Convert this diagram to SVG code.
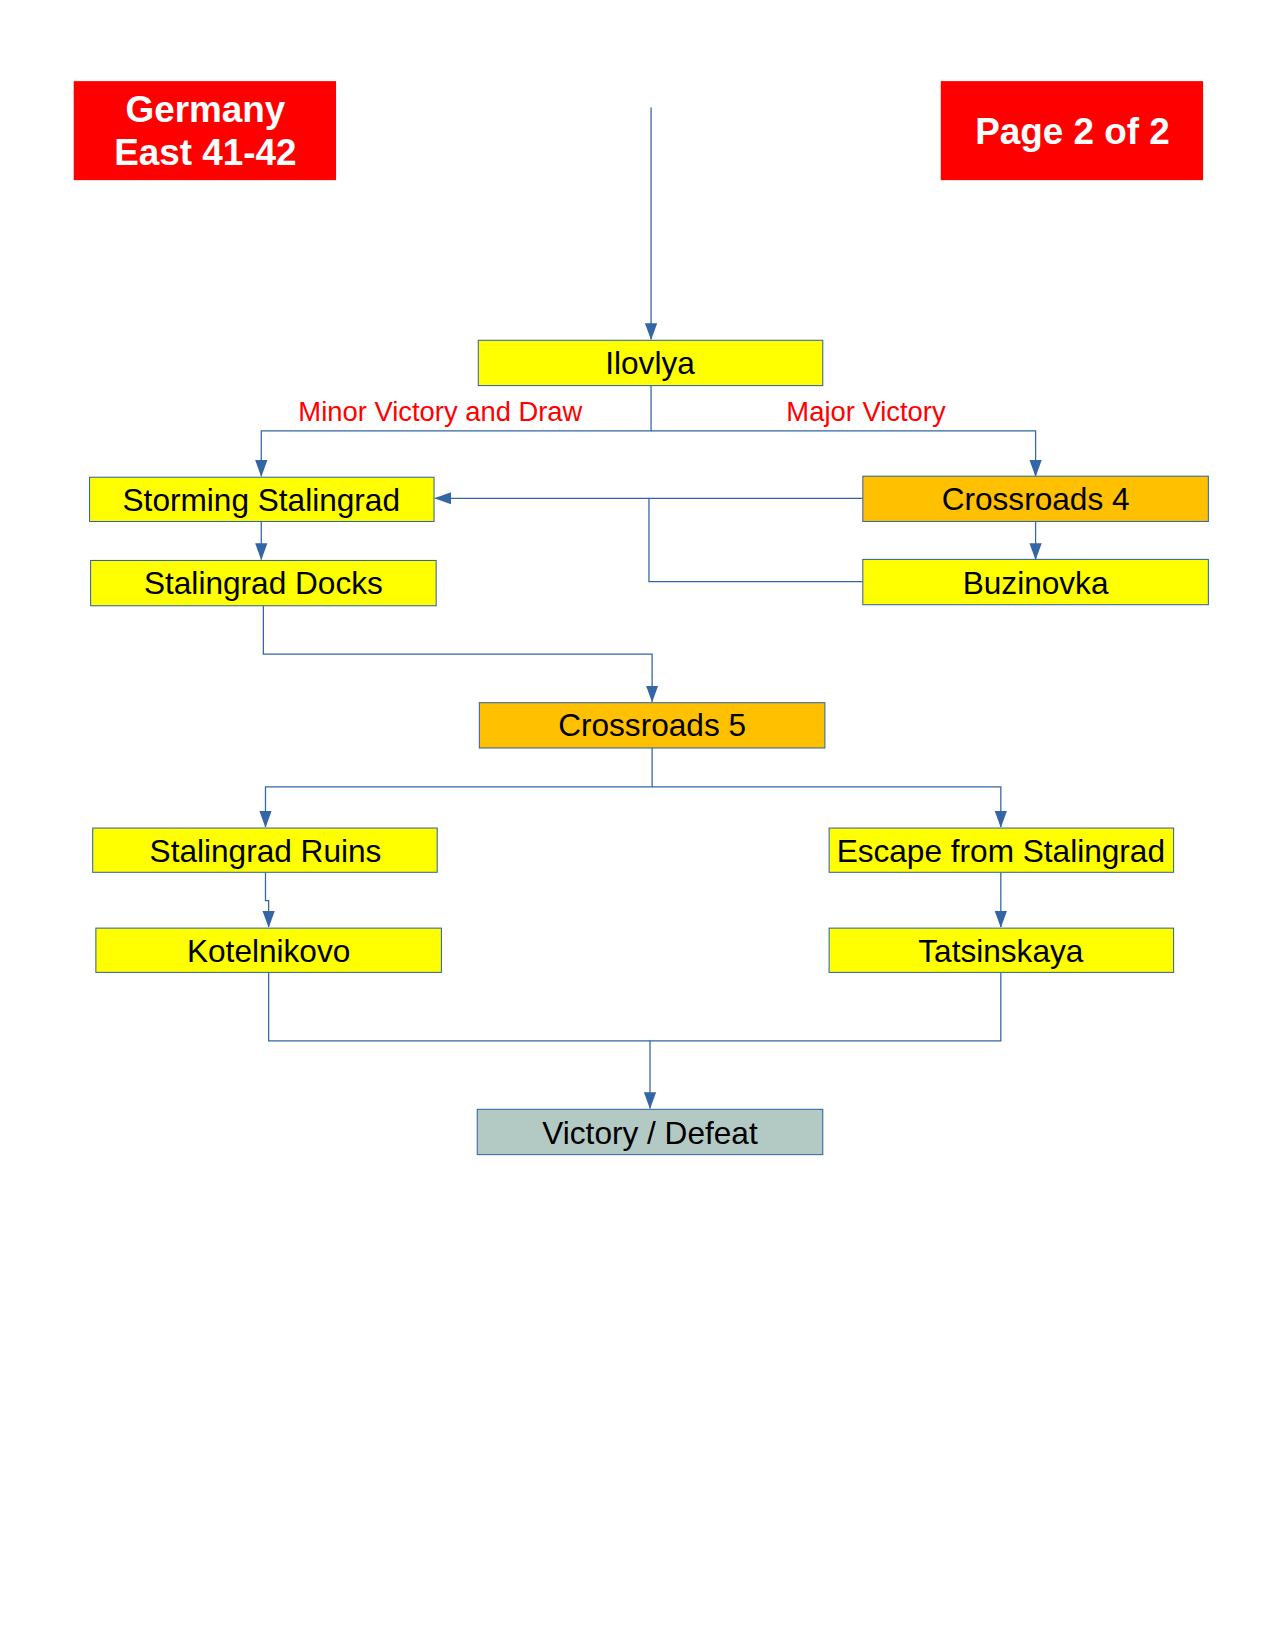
<svg xmlns="http://www.w3.org/2000/svg" width="1275" height="1650" viewBox="0 0 1275 1650">
<defs>
<marker id="a" markerWidth="16" markerHeight="22" refX="21" refY="8" orient="auto" markerUnits="userSpaceOnUse" viewBox="0 0 22 16"><path d="M0,0 L22,8 L0,16 z" fill="#3465A4"/></marker>
<style>
.n{stroke:#3465A4;stroke-width:1}
.y{fill:#FFFF00}.o{fill:#FFC000}.g{fill:#B3C9C4}.r{fill:#FF0000;stroke:none}
.t{font-family:"Liberation Sans",Arial,sans-serif;font-size:30px;text-anchor:middle;fill:#000}
.w{font-family:"Liberation Sans",Arial,sans-serif;font-size:35px;font-weight:bold;text-anchor:middle;fill:#fff}
.l{font-family:"Liberation Sans",Arial,sans-serif;font-size:26px;text-anchor:middle;fill:#FF0000}
.c{fill:none;stroke:#3465A4;stroke-width:1.2}
</style>
</defs>
<rect width="1275" height="1650" fill="#fff"/>
<g transform="scale(1.0535)">
<g id="germany"><rect class="r" x="70" y="77" width="249" height="94"/><text class="w" x="195" y="116">Germany</text><text class="w" x="195" y="157">East 41-42</text></g>
<g id="page"><rect class="r" x="893" y="77" width="249" height="94"/><text class="w" x="1018" y="137">Page 2 of 2</text></g>
<g id="connectors">
<path class="c" d="M618,102 V322" marker-end="url(#a)"/>
<path class="c" d="M618,366 V409 H248 V452" marker-end="url(#a)"/>
<path class="c" d="M618,409 H983 V452" marker-end="url(#a)"/>
<path class="c" d="M819,473 H413" marker-end="url(#a)"/>
<path class="c" d="M819,552 H616 V473"/>
<path class="c" d="M248,495 V531" marker-end="url(#a)"/>
<path class="c" d="M983,495 V531" marker-end="url(#a)"/>
<path class="c" d="M250,575 V621 H619 V666" marker-end="url(#a)"/>
<path class="c" d="M619,710 V747 H252 V785" marker-end="url(#a)"/>
<path class="c" d="M619,747 H950 V785" marker-end="url(#a)"/>
<path class="c" d="M252,828 V855 H255 V880" marker-end="url(#a)"/>
<path class="c" d="M950,828 V880" marker-end="url(#a)"/>
<path class="c" d="M255,923 V988 H950 V923"/>
<path class="c" d="M617,988 V1052" marker-end="url(#a)"/>
</g>
<text class="l" x="418" y="400">Minor Victory and Draw</text>
<text class="l" x="822" y="400">Major Victory</text>
<g id="ilovlya"><rect class="n y" x="454" y="323" width="327" height="43"/><text class="t" x="617" y="355">Ilovlya</text></g>
<g id="storming"><rect class="n y" x="85" y="453" width="327" height="42"/><text class="t" x="248" y="485">Storming Stalingrad</text></g>
<g id="crossroads4"><rect class="n o" x="819" y="452" width="328" height="43"/><text class="t" x="983" y="484">Crossroads 4</text></g>
<g id="docks"><rect class="n y" x="86" y="532" width="328" height="43"/><text class="t" x="250" y="564">Stalingrad Docks</text></g>
<g id="buzinovka"><rect class="n y" x="819" y="531" width="328" height="43"/><text class="t" x="983" y="564">Buzinovka</text></g>
<g id="crossroads5"><rect class="n o" x="455" y="667" width="328" height="43"/><text class="t" x="619" y="699">Crossroads 5</text></g>
<g id="ruins"><rect class="n y" x="88" y="786" width="327" height="42"/><text class="t" x="252" y="818">Stalingrad Ruins</text></g>
<g id="escape"><rect class="n y" x="787" y="786" width="327" height="42"/><text class="t" x="950" y="818">Escape from Stalingrad</text></g>
<g id="kotelnikovo"><rect class="n y" x="91" y="881" width="328" height="42"/><text class="t" x="255" y="913">Kotelnikovo</text></g>
<g id="tatsinskaya"><rect class="n y" x="787" y="881" width="327" height="42"/><text class="t" x="950" y="913">Tatsinskaya</text></g>
<g id="victory"><rect class="n g" x="453" y="1053" width="328" height="43"/><text class="t" x="617" y="1086">Victory / Defeat</text></g>
</g>
</svg>
